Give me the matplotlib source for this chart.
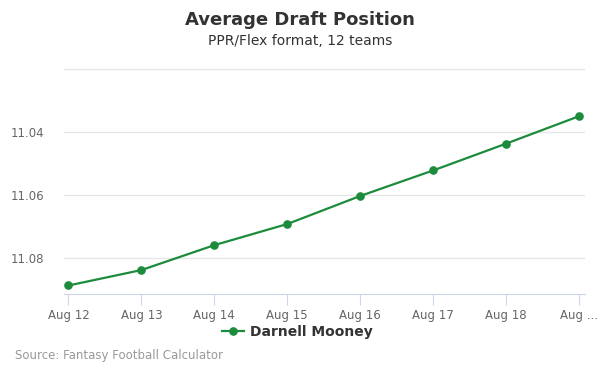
import matplotlib
matplotlib.use("Agg")
import matplotlib.pyplot as plt

dates = ["Aug 12", "Aug 13", "Aug 14", "Aug 15", "Aug 16", "Aug 17", "Aug 18", "Aug 19"]
tick_labels = ["Aug 12", "Aug 13", "Aug 14", "Aug 15", "Aug 16", "Aug 17", "Aug 18", "Aug ..."]
adp = [11.0887, 11.0838, 11.0759, 11.0692, 11.0603, 11.0522, 11.0437, 11.0350]
yticks = [11.04, 11.06, 11.08]
series_name = "Darnell Mooney"

green = "#1c8c3c"
fig = plt.figure(figsize=(6, 3.75), dpi=100)
ax = fig.add_axes([64/600, 1-294/375, 521/600, 226/375])
x = list(range(len(dates)))
ax.plot(x, adp, color=green, lw=1.6, marker="o", ms=5.2, label=series_name, zorder=3, clip_on=False)
ax.set_xlim(-4.5/73, 7 + 6/73)
ax.set_ylim(11.0914, 11.0197)
ax.set_yticks([11.02] + yticks)
ax.set_yticklabels([""] + [f"{v:.2f}" for v in yticks])
ax.set_xticks(x)
ax.set_xticklabels(tick_labels)
ax.grid(axis="y", color="#e6e6e6", lw=1)
ax.set_axisbelow(True)
for s in ["top", "right", "left"]:
    ax.spines[s].set_visible(False)
ax.spines["bottom"].set_color("#ccd6eb")
ax.tick_params(axis="y", length=0, labelsize=8.5, labelcolor="#666666", pad=14)
ax.tick_params(axis="x", length=8, color="#ccd6eb", labelsize=8.5, labelcolor="#666666", pad=3)

fig.text(0.5, 1-20/375, "Average Draft Position", ha="center", va="center", fontsize=13, fontweight="bold", color="#333333")
fig.text(0.5, 1-41/375, "PPR/Flex format, 12 teams", ha="center", va="center", fontsize=10, color="#333333")
leg = fig.legend(loc="center", bbox_to_anchor=(0.5 - 3/600, 1-332/375), frameon=False,
                 prop={"weight": "bold", "size": 10}, handlelength=1.6, handletextpad=0.4)
for t in leg.get_texts():
    t.set_color("#333333")
fig.text(15/600, 1-356/375, "Source: Fantasy Football Calculator", ha="left", va="center", fontsize=8.5, color="#999999")
fig.savefig("out.png", dpi=100)
